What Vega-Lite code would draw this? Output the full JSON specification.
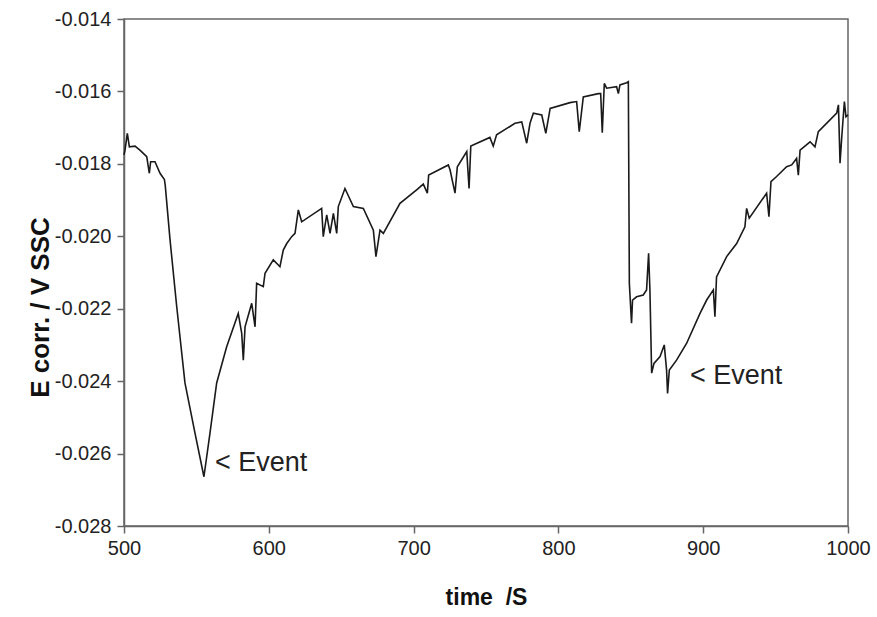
{
  "$schema": "https://vega.github.io/schema/vega-lite/v6.json",
  "width": 724,
  "height": 507,
  "autosize": "none",
  "padding": {"left": 124, "top": 19, "right": 29, "bottom": 91},
  "background": "white",
  "config": {
    "font": "Liberation Sans",
    "view": {"stroke": "#666", "strokeWidth": 1.5},
    "axis": {
      "grid": false,
      "domainColor": "#666",
      "domainWidth": 1.5,
      "tickColor": "#666",
      "tickWidth": 1.5,
      "tickSize": 7,
      "labelFont": "Liberation Sans",
      "labelColor": "#222",
      "titleFont": "Liberation Sans",
      "titleFontWeight": "bold",
      "titleColor": "#111"
    }
  },
  "datasets": {
    "series": [
      {"t": 500.0, "e": -0.01775},
      {"t": 500.7, "e": -0.01762},
      {"t": 502.3, "e": -0.01716},
      {"t": 503.7, "e": -0.01753},
      {"t": 507.6, "e": -0.01751},
      {"t": 511.0, "e": -0.01762},
      {"t": 515.7, "e": -0.0178},
      {"t": 517.5, "e": -0.01826},
      {"t": 518.4, "e": -0.01794},
      {"t": 521.4, "e": -0.01794},
      {"t": 524.9, "e": -0.01826},
      {"t": 527.9, "e": -0.01843},
      {"t": 528.5, "e": -0.0186},
      {"t": 531.8, "e": -0.0201},
      {"t": 536.4, "e": -0.02194},
      {"t": 542.1, "e": -0.02405},
      {"t": 549.0, "e": -0.02543},
      {"t": 555.2, "e": -0.02664},
      {"t": 559.4, "e": -0.02543},
      {"t": 564.0, "e": -0.02405},
      {"t": 570.9, "e": -0.02305},
      {"t": 578.9, "e": -0.02213},
      {"t": 581.3, "e": -0.02268},
      {"t": 582.4, "e": -0.02342},
      {"t": 583.6, "e": -0.0225},
      {"t": 588.2, "e": -0.02185},
      {"t": 590.5, "e": -0.0225},
      {"t": 591.6, "e": -0.0213},
      {"t": 596.2, "e": -0.02139},
      {"t": 597.4, "e": -0.02102},
      {"t": 603.1, "e": -0.02065},
      {"t": 607.7, "e": -0.02084},
      {"t": 610.0, "e": -0.02038},
      {"t": 612.4, "e": -0.0202},
      {"t": 615.8, "e": -0.02001},
      {"t": 618.1, "e": -0.01992},
      {"t": 620.4, "e": -0.01927},
      {"t": 622.7, "e": -0.0196},
      {"t": 636.5, "e": -0.01923},
      {"t": 637.6, "e": -0.02001},
      {"t": 640.0, "e": -0.01941},
      {"t": 642.3, "e": -0.01992},
      {"t": 644.6, "e": -0.01937},
      {"t": 646.9, "e": -0.01992},
      {"t": 648.0, "e": -0.01918},
      {"t": 652.6, "e": -0.01868},
      {"t": 658.4, "e": -0.01918},
      {"t": 665.3, "e": -0.01923},
      {"t": 672.2, "e": -0.01983},
      {"t": 674.0, "e": -0.02056},
      {"t": 676.8, "e": -0.01983},
      {"t": 679.1, "e": -0.01992},
      {"t": 690.6, "e": -0.01909},
      {"t": 702.1, "e": -0.01872},
      {"t": 706.7, "e": -0.01856},
      {"t": 709.5, "e": -0.01881},
      {"t": 710.4, "e": -0.01831},
      {"t": 724.0, "e": -0.01803},
      {"t": 725.2, "e": -0.01817},
      {"t": 728.6, "e": -0.01881},
      {"t": 730.2, "e": -0.01808},
      {"t": 736.7, "e": -0.01766},
      {"t": 738.3, "e": -0.01868},
      {"t": 739.5, "e": -0.01751},
      {"t": 752.7, "e": -0.01727},
      {"t": 755.0, "e": -0.01751},
      {"t": 757.3, "e": -0.0172},
      {"t": 770.0, "e": -0.01688},
      {"t": 774.7, "e": -0.01684},
      {"t": 778.1, "e": -0.01743},
      {"t": 780.4, "e": -0.01688},
      {"t": 782.7, "e": -0.0166},
      {"t": 788.5, "e": -0.01665},
      {"t": 791.3, "e": -0.01716},
      {"t": 794.3, "e": -0.01647},
      {"t": 808.0, "e": -0.01631},
      {"t": 812.6, "e": -0.01628},
      {"t": 814.4, "e": -0.01711},
      {"t": 817.2, "e": -0.01615},
      {"t": 827.6, "e": -0.01606},
      {"t": 829.2, "e": -0.01606},
      {"t": 830.3, "e": -0.01714},
      {"t": 831.7, "e": -0.01578},
      {"t": 833.3, "e": -0.01591},
      {"t": 840.2, "e": -0.01587},
      {"t": 841.4, "e": -0.01606},
      {"t": 842.5, "e": -0.01582},
      {"t": 847.1, "e": -0.01576},
      {"t": 848.3, "e": -0.01573},
      {"t": 849.0, "e": -0.0213},
      {"t": 850.5, "e": -0.0224},
      {"t": 851.2, "e": -0.02176},
      {"t": 854.0, "e": -0.02167},
      {"t": 858.6, "e": -0.02162},
      {"t": 860.9, "e": -0.02148},
      {"t": 862.3, "e": -0.02047},
      {"t": 863.2, "e": -0.02148},
      {"t": 864.4, "e": -0.02378},
      {"t": 866.0, "e": -0.02351},
      {"t": 870.2, "e": -0.02332},
      {"t": 873.1, "e": -0.023},
      {"t": 874.7, "e": -0.02369},
      {"t": 875.4, "e": -0.02434},
      {"t": 876.6, "e": -0.02369},
      {"t": 881.6, "e": -0.02342},
      {"t": 888.5, "e": -0.02296},
      {"t": 897.8, "e": -0.02213},
      {"t": 902.4, "e": -0.02176},
      {"t": 907.0, "e": -0.02148},
      {"t": 908.1, "e": -0.02222},
      {"t": 909.2, "e": -0.02112},
      {"t": 916.2, "e": -0.02056},
      {"t": 923.1, "e": -0.0202},
      {"t": 928.8, "e": -0.01974},
      {"t": 930.0, "e": -0.01923},
      {"t": 931.8, "e": -0.0195},
      {"t": 943.8, "e": -0.01881},
      {"t": 945.4, "e": -0.01946},
      {"t": 946.8, "e": -0.01849},
      {"t": 950.7, "e": -0.01835},
      {"t": 957.6, "e": -0.01808},
      {"t": 961.1, "e": -0.01803},
      {"t": 964.5, "e": -0.01785},
      {"t": 965.7, "e": -0.01831},
      {"t": 966.9, "e": -0.01762},
      {"t": 973.8, "e": -0.01739},
      {"t": 977.2, "e": -0.01753},
      {"t": 979.5, "e": -0.01711},
      {"t": 992.2, "e": -0.0166},
      {"t": 993.4, "e": -0.01637},
      {"t": 994.5, "e": -0.01798},
      {"t": 995.7, "e": -0.01725},
      {"t": 997.5, "e": -0.01628},
      {"t": 998.6, "e": -0.0167},
      {"t": 1000.0, "e": -0.01665}
    ],
    "notes": [
      {"t": 562.8, "e": -0.02626, "label": "< Event"},
      {"t": 890.9, "e": -0.02386, "label": "< Event"}
    ]
  },
  "layer": [
    {
      "data": {"name": "series"},
      "mark": {"type": "line", "color": "#1a1a1a", "strokeWidth": 1.6, "interpolate": "linear"},
      "encoding": {
        "x": {
          "field": "t",
          "type": "quantitative",
          "scale": {"domain": [500, 1000], "nice": false, "zero": false},
          "axis": {"title": "time\u00a0\u00a0/S", "format": "d", "labelFontSize": 20, "titleFontSize": 23, "values": [500, 600, 700, 800, 900, 1000], "labelPadding": 5, "titlePadding": 28, "labelFlush": false}
        },
        "y": {
          "field": "e",
          "type": "quantitative",
          "scale": {"domain": [-0.028, -0.014], "nice": false, "zero": false},
          "axis": {
            "title": "E corr. / V SSC",
            "titleFontSize": 26,
            "titleY": 288,
            "labelFontSize": 20,
            "values": [-0.028, -0.026, -0.024, -0.022, -0.02, -0.018, -0.016, -0.014],
            "labelExpr": "replace(format(datum.value, '.3f'), '\u2212', '-')",
            "labelPadding": 6,
            "titlePadding": 1,
            "labelFlush": false
          }
        }
      }
    },
    {
      "data": {"name": "notes"},
      "mark": {"type": "text", "align": "left", "baseline": "middle", "fontSize": 27, "color": "#222", "font": "Liberation Sans"},
      "encoding": {
        "x": {"field": "t", "type": "quantitative"},
        "y": {"field": "e", "type": "quantitative"},
        "text": {"field": "label"}
      }
    }
  ]
}
